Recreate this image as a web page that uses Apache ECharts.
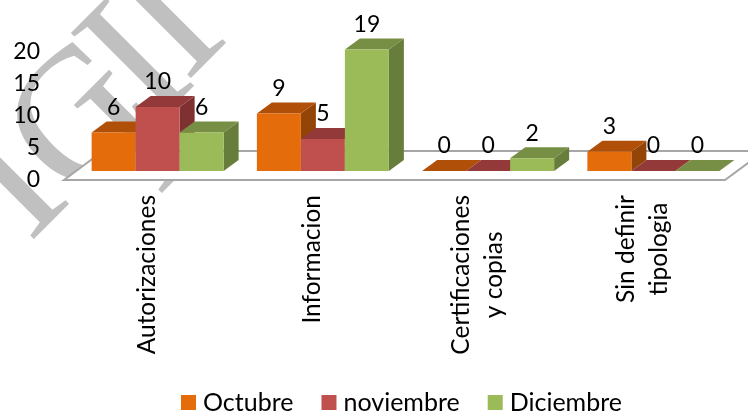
<!DOCTYPE html>
<html>
<head>
<meta charset="utf-8">
<title>Tipologia</title>
<script src="https://cdn.jsdelivr.net/npm/echarts@6/dist/echarts.min.js"></script>
<style>
html,body{margin:0;padding:0;background:#fff;}
#main{width:748px;height:413px;}
</style>
</head>
<body>
<div id="main"></div>
<script>
var categories = ['Autorizaciones', 'Informacion', 'Certificaciones\ny copias', 'Sin definir\ntipologia'];
var yTicks = [0, 5, 10, 15, 20];
var octubre = [6, 9, 0, 3];
var noviembre = [10, 5, 0, 0];
var diciembre = [6, 19, 2, 0];

var font = 'Lato';
var chart = echarts.init(document.getElementById('main'));

// bars have a fake 3d look, depth and shift are in pixels
var depthX = 15, depthY = 11;
var shiftX = 11, shiftY = -9;
var barW = 44;

function bar3d(index, colors) {
  return function (params, api) {
    var c = api.coord([api.value(0), api.value(1)]);
    var b = api.coord([api.value(0), 0]);
    var x = c[0] + shiftX + (index - 1.5) * barW;
    var top = c[1] + shiftY, base = b[1] + shiftY;
    var dx = depthX, dy = depthY;
    return {
      type: 'group',
      children: [
        {type: 'polygon', shape: {points: [[x + barW, top], [x + barW + dx, top - dy], [x + barW + dx, base - dy], [x + barW, base]]}, style: {fill: colors[2]}},
        {type: 'polygon', shape: {points: [[x, top], [x + dx, top - dy], [x + barW + dx, top - dy], [x + barW, top]]}, style: {fill: colors[1]}},
        {type: 'rect', shape: {x: x, y: top, width: barW, height: base - top}, style: {fill: colors[0]}}
      ]
    };
  };
}

function floor(params, api) {
  if (params.dataIndex !== 0) return null;
  var l = api.coord([0, 0]), r = api.coord([3, 0]);
  var half = api.size([1, 0])[0] / 2;
  var x0 = l[0] - half, x1 = r[0] + half, y = l[1];
  return {
    type: 'polygon',
    shape: {points: [[x0, y], [x0 + 39, y - 29], [x1 + 39, y - 29], [x1, y]]},
    style: {fill: '#fff', stroke: '#a6a6a6', lineWidth: 2}
  };
}

function barSeries(name, data, index, colors) {
  return {
    name: name,
    type: 'custom',
    itemStyle: {color: colors[0]},
    renderItem: bar3d(index, colors),
    encode: {x: 0, y: 1},
    data: data.map(function (v, i) { return [i, v]; }),
    z: 3
  };
}

function labelSeries(data, index) {
  return {
    type: 'custom',
    silent: true,
    z: 5,
    renderItem: function (params, api) {
      var c = api.coord([api.value(0), api.value(1)]);
      return {
        type: 'text',
        x: c[0] + shiftX + (index - 1) * barW,
        y: c[1] + shiftY - 25,
        style: {text: String(api.value(1)), fill: '#000', font: '23px ' + font, align: 'center', verticalAlign: 'middle'}
      };
    },
    data: data.map(function (v, i) { return [i, v]; })
  };
}

// watermark behind the chart
function mark(letter, x, y) {
  return {
    type: 'text', z: -1, x: x, y: y, rotation: Math.PI / 4,
    style: {text: letter, font: '190px "Liberation Serif"', fill: '#c0c0c0', align: 'center', verticalAlign: 'middle'}
  };
}

var option = {
  animation: false,
  backgroundColor: '#fff',
  textStyle: {fontFamily: font},
  grid: {left: 64, right: 23, top: 52, height: 128},
  legend: {
    data: ['Octubre', 'noviembre', 'Diciembre'],
    left: 176,
    top: 385,
    itemWidth: 15,
    itemHeight: 15,
    itemGap: 28,
    icon: 'rect',
    textStyle: {fontSize: 25, fontFamily: font, color: '#000', padding: [0, 0, 0, 2]}
  },
  xAxis: {
    type: 'category',
    data: categories,
    axisLine: {show: false},
    axisTick: {show: false},
    axisLabel: {
      rotate: 90,
      margin: 15,
      interval: 0,
      // each line centred inside the label block
      formatter: function (v) {
        return v.split('\n').map(function (s) { return '{c|' + s + '}'; }).join('\n');
      },
      rich: {c: {fontSize: 24.5, fontFamily: font, color: '#000', lineHeight: 33, align: 'center'}}
    }
  },
  yAxis: {
    type: 'value',
    min: yTicks[0],
    max: yTicks[yTicks.length - 1],
    interval: yTicks[1] - yTicks[0],
    axisLine: {show: false},
    axisTick: {show: false},
    splitLine: {show: false},
    axisLabel: {fontSize: 23, color: '#000', margin: 24, fontFamily: font}
  },
  graphic: [
    mark('C', 87, 128),
    mark('I', 141, 68),
    mark('I', 173, 25),
    mark('I', 144, 140),
    mark('I', 16, 186),
    mark('V', 216, -41)
  ],
  series: [
    {type: 'custom', silent: true, z: 1, renderItem: floor, data: categories.map(function (c, i) { return [i, 0]; })},
    barSeries('Octubre', octubre, 0, ['#e46c0a', '#b05008', '#934407']),
    barSeries('noviembre', noviembre, 1, ['#c0504d', '#93393a', '#7e3130']),
    barSeries('Diciembre', diciembre, 2, ['#9bbb59', '#768f45', '#677d3c']),
    labelSeries(octubre, 0),
    labelSeries(noviembre, 1),
    labelSeries(diciembre, 2)
  ]
};
chart.setOption(option);
</script>
</body>
</html>
